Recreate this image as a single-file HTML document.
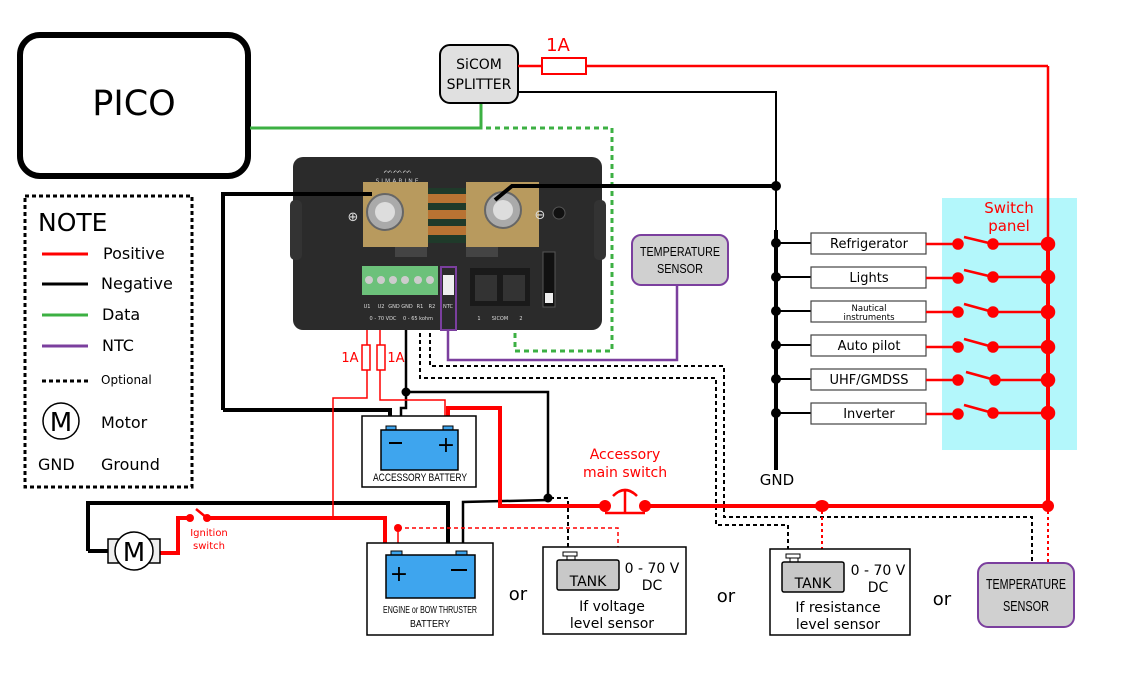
<!DOCTYPE html>
<html><head><meta charset="utf-8"><style>
body{margin:0;background:#fff}
svg{display:block}
text{font-family:"DejaVu Sans","Liberation Sans",sans-serif}
.c{font-family:"Liberation Sans",sans-serif}
</style></head><body>
<svg width="1127" height="690" viewBox="0 0 1127 690" xmlns="http://www.w3.org/2000/svg">
<rect x="942" y="198" width="135" height="252" fill="#b3f7fb"/>
<rect x="20" y="35" width="228" height="141" rx="20" fill="#fff" stroke="#000" stroke-width="6"/>
<text x="134" y="115" font-size="35" text-anchor="middle">PICO</text>
<polyline points="250,128 481,128 481,103" fill="none" stroke="#3cb043" stroke-width="3"/>
<polyline points="486,128 612,128 612,351 515,351 515,330" fill="none" stroke="#3cb043" stroke-width="3" stroke-dasharray="5,4"/>
<rect x="440" y="45" width="78" height="58" rx="10" fill="#e0e0e0" stroke="#000" stroke-width="2"/>
<text x="479" y="69" font-size="14" text-anchor="middle">SiCOM</text>
<text x="479" y="89" font-size="14" text-anchor="middle">SPLITTER</text>
<line x1="518" y1="66" x2="1048" y2="66" stroke="#f00" stroke-width="2.5"/>
<rect x="542" y="58" width="44" height="16" fill="#fff" stroke="#f00" stroke-width="2"/>
<text x="558" y="51" font-size="18" fill="#f00" text-anchor="middle">1A</text>
<polyline points="518,92 776,92 776,420" fill="none" stroke="#000" stroke-width="2"/>
<line x1="776" y1="230" x2="776" y2="470" stroke="#000" stroke-width="4"/>
<text x="777" y="485" font-size="15" text-anchor="middle">GND</text>
<line x1="1048" y1="66" x2="1048" y2="240" stroke="#f00" stroke-width="2.5"/>
<line x1="1048" y1="240" x2="1048" y2="506" stroke="#f00" stroke-width="4"/>
<text x="1009" y="213" font-size="15" fill="#f00" text-anchor="middle">Switch</text>
<text x="1009" y="231" font-size="15" fill="#f00" text-anchor="middle">panel</text>
<g font-size="13" text-anchor="middle">
<g stroke-width="2">
<line x1="776" y1="243" x2="811" y2="243" stroke="#000"/><line x1="776" y1="277" x2="811" y2="277" stroke="#000"/><line x1="776" y1="311" x2="811" y2="311" stroke="#000"/><line x1="776" y1="345" x2="811" y2="345" stroke="#000"/><line x1="776" y1="379" x2="811" y2="379" stroke="#000"/><line x1="776" y1="413" x2="811" y2="413" stroke="#000"/>
</g>
<g fill="#fff" stroke="#444" stroke-width="1.2">
<rect x="811" y="233" width="115" height="21"/><rect x="811" y="267" width="115" height="21"/><rect x="811" y="301" width="115" height="21"/><rect x="811" y="335" width="115" height="21"/><rect x="811" y="369" width="115" height="21"/><rect x="811" y="403" width="115" height="21"/>
</g>
<text x="869" y="248">Refrigerator</text>
<text x="869" y="282">Lights</text>
<text x="869" y="311" font-size="8.5">Nautical</text>
<text x="869" y="320" font-size="8.5">instruments</text>
<text x="869" y="350">Auto pilot</text>
<text x="869" y="384">UHF/GMDSS</text>
<text x="869" y="418">Inverter</text>
</g>
<g fill="#000">
<circle cx="776" cy="186" r="5"/><circle cx="776" cy="243" r="5"/><circle cx="776" cy="277" r="5"/><circle cx="776" cy="311" r="5"/><circle cx="776" cy="345" r="5"/><circle cx="776" cy="379" r="5"/><circle cx="776" cy="413" r="5"/>
</g>
<g stroke="#f00" stroke-width="2.5" fill="#f00">
<line x1="926" y1="244" x2="958" y2="244"/><line x1="993" y1="244" x2="1048" y2="244"/><line x1="964" y1="237" x2="993" y2="244"/>
<circle cx="958" cy="244" r="4.5"/><circle cx="993" cy="244" r="4.5"/><circle cx="1048" cy="244" r="6"/>
<line x1="926" y1="278" x2="958" y2="278"/><line x1="993" y1="277" x2="1048" y2="277"/><line x1="964" y1="270" x2="993" y2="277"/>
<circle cx="958" cy="278" r="4.5"/><circle cx="993" cy="277" r="4.5"/><circle cx="1048" cy="277" r="6"/>
<line x1="926" y1="312" x2="958" y2="312"/><line x1="993" y1="312" x2="1048" y2="312"/><line x1="964" y1="304" x2="993" y2="312"/>
<circle cx="958" cy="312" r="4.5"/><circle cx="993" cy="312" r="4.5"/><circle cx="1048" cy="312" r="6"/>
<line x1="926" y1="347" x2="958" y2="347"/><line x1="993" y1="347" x2="1048" y2="347"/><line x1="964" y1="339" x2="993" y2="347"/>
<circle cx="958" cy="347" r="4.5"/><circle cx="993" cy="347" r="4.5"/><circle cx="1048" cy="347" r="6"/>
<line x1="926" y1="380" x2="958" y2="380"/><line x1="995" y1="380" x2="1048" y2="380"/><line x1="966" y1="372" x2="995" y2="380"/>
<circle cx="958" cy="380" r="4.5"/><circle cx="995" cy="380" r="4.5"/><circle cx="1048" cy="380" r="6"/>
<line x1="926" y1="414" x2="958" y2="414"/><line x1="993" y1="413" x2="1048" y2="413"/><line x1="964" y1="405" x2="993" y2="413"/>
<circle cx="958" cy="414" r="4.5"/><circle cx="993" cy="413" r="4.5"/><circle cx="1048" cy="413" r="6"/>
</g>
<polyline points="677,285 677,360 448,360 448,330" fill="none" stroke="#7b3f9e" stroke-width="2.5"/>
<rect x="632" y="235" width="96" height="50" rx="9" fill="#d0d0d0" stroke="#7b3f9e" stroke-width="2"/>
<text class="c" x="680" y="256" font-size="13" text-anchor="middle" textLength="80" lengthAdjust="spacingAndGlyphs">TEMPERATURE</text>
<text class="c" x="680" y="273" font-size="13" text-anchor="middle" textLength="46" lengthAdjust="spacingAndGlyphs">SENSOR</text>
<rect x="293" y="157" width="309" height="173" rx="10" fill="#2b2b2b"/>
<rect x="290" y="200" width="12" height="60" rx="5" fill="#333"/>
<rect x="594" y="200" width="12" height="60" rx="5" fill="#333"/>
<text x="398" y="183" font-size="6" fill="#ccc" text-anchor="middle" letter-spacing="2">SIMARINE</text>
<text x="398" y="173" font-size="8" fill="#ddd" text-anchor="middle">ᨓᨓᨓ</text>
<rect x="405" y="188" width="90" height="55" fill="#1f3a2a"/>
<rect x="415" y="194" width="70" height="9" rx="4" fill="#b87333"/>
<rect x="415" y="210" width="70" height="9" rx="4" fill="#b87333"/>
<rect x="415" y="226" width="70" height="9" rx="4" fill="#b87333"/>
<rect x="363" y="182" width="65" height="65" fill="#b89a5e"/>
<rect x="466" y="182" width="73" height="65" fill="#b89a5e"/>
<rect x="395" y="247" width="32" height="10" fill="#444"/><rect x="466" y="247" width="32" height="10" fill="#444"/>
<circle cx="385" cy="212" r="18" fill="#aaa" stroke="#666" stroke-width="2"/><circle cx="385" cy="212" r="10" fill="#ddd"/>
<circle cx="503" cy="210" r="18" fill="#aaa" stroke="#666" stroke-width="2"/><circle cx="503" cy="210" r="10" fill="#ddd"/>
<text x="353" y="221" font-size="13" fill="#ddd" text-anchor="middle">⊕</text>
<text x="540" y="219" font-size="13" fill="#ddd" text-anchor="middle">⊖</text>
<circle cx="559" cy="213" r="6" fill="#111" stroke="#555"/>
<rect x="362" y="266" width="76" height="29" fill="#6cc17a"/>
<g fill="#ccc"><circle cx="369" cy="280" r="4"/><circle cx="381" cy="280" r="4"/><circle cx="393" cy="280" r="4"/><circle cx="405" cy="280" r="4"/><circle cx="418" cy="280" r="4"/><circle cx="430" cy="280" r="4"/></g>
<rect x="441" y="267" width="15" height="63" fill="none" stroke="#7b3f9e" stroke-width="2"/>
<rect x="443" y="275" width="11" height="20" fill="#eee"/>
<rect x="470" y="268" width="60" height="38" fill="#1a1a1a"/>
<rect x="475" y="275" width="22" height="26" fill="#333"/><rect x="503" y="275" width="22" height="26" fill="#333"/>
<rect x="543" y="252" width="12" height="55" fill="#111" stroke="#555"/>
<rect x="545" y="293" width="8" height="10" fill="#eee"/>
<g font-size="5" fill="#ddd" text-anchor="middle"><text x="367" y="308">U1</text><text x="381" y="308">U2</text><text x="394" y="308">GND</text><text x="407" y="308">GND</text><text x="420" y="308">R1</text><text x="432" y="308">R2</text><text x="448" y="308">NTC</text>
<text x="383" y="320">0 - 70 VDC</text><text x="418" y="320">0 - 65 kohm</text><text x="479" y="320">1</text><text x="500" y="320">SICOM</text><text x="521" y="320">2</text></g>
<polyline points="223,410 223,194 372,194" fill="none" stroke="#000" stroke-width="4"/>
<polyline points="223,410 390,410 390,420" fill="none" stroke="#000" stroke-width="4"/>
<polyline points="495,200 512,186 776,186" fill="none" stroke="#000" stroke-width="4"/>
<polyline points="406,330 406,408 401,408 401,420" fill="none" stroke="#000" stroke-width="2.5"/>
<polyline points="406,392 548,392 548,498" fill="none" stroke="#000" stroke-width="2.5"/>
<circle cx="406" cy="392" r="4.5"/><circle cx="548" cy="498" r="4.5"/>
<polyline points="548,500 463,502 463,552" fill="none" stroke="#000" stroke-width="2.5"/>
<polyline points="88,551 88,503 448,503 448,545 455,552" fill="none" stroke="#000" stroke-width="4"/>
<line x1="88" y1="551" x2="108" y2="551" stroke="#000" stroke-width="4"/>
<g fill="none" stroke="#000" stroke-width="2" stroke-dasharray="4,3">
<polyline points="430,333 430,366 724,366 724,517 1032,517 1032,562"/>
<polyline points="420,333 420,378 716,378 716,525 788,525 788,552"/>
<polyline points="550,498 568,498 568,548"/>
</g>
<g fill="none" stroke="#f00" stroke-width="1.5">
<polyline points="367,330 367,398 333,398 333,518 385,518"/>
<polyline points="380,330 380,400 445,400 445,420"/>
<rect x="362" y="345" width="8" height="25" fill="#fff"/>
<rect x="377" y="345" width="8" height="25" fill="#fff"/>
<polyline points="398,528 398,553"/>
<polyline points="398,528 618,528 618,548" stroke-dasharray="4,3"/>
<line x1="822" y1="505" x2="822" y2="555" stroke-dasharray="3,3" stroke-width="2"/>
<line x1="1048" y1="505" x2="1048" y2="562" stroke-dasharray="3,3" stroke-width="2"/>
</g>
<circle cx="398" cy="528" r="4" fill="#f00"/>
<text x="350" y="362" font-size="13" fill="#f00" text-anchor="middle">1A</text>
<text x="396" y="362" font-size="13" fill="#f00" text-anchor="middle">1A</text>
<polyline points="448,420 448,408 500,408 500,506 605,506" fill="none" stroke="#f00" stroke-width="4"/>
<line x1="645" y1="506" x2="1048" y2="506" stroke="#f00" stroke-width="4"/>
<circle cx="605" cy="506" r="6" fill="#f00"/><circle cx="645" cy="506" r="6" fill="#f00"/>
<line x1="605" y1="513" x2="645" y2="513" stroke="#f00" stroke-width="2.5"/>
<line x1="625" y1="491" x2="625" y2="513" stroke="#f00" stroke-width="2.5"/>
<path d="M613,496 Q625,484 637,496" fill="none" stroke="#f00" stroke-width="2.5"/>
<text x="625" y="459" font-size="14" fill="#f00" text-anchor="middle">Accessory</text>
<text x="625" y="477" font-size="14" fill="#f00" text-anchor="middle">main switch</text>
<ellipse cx="822" cy="506" rx="7" ry="6" fill="#f00"/><circle cx="1048" cy="506" r="6" fill="#f00"/>
<polyline points="160,553 178,553 178,518 188,518" fill="none" stroke="#f00" stroke-width="4"/>
<polyline points="205,518 385,518 385,545 390,552" fill="none" stroke="#f00" stroke-width="4"/>
<circle cx="190" cy="518" r="4" fill="#f00"/><circle cx="207" cy="518" r="4" fill="#f00"/>
<line x1="196" y1="509" x2="207" y2="518" stroke="#f00" stroke-width="2.5"/>
<text x="209" y="536" font-size="10" fill="#f00" text-anchor="middle">Ignition</text>
<text x="209" y="549" font-size="10" fill="#f00" text-anchor="middle">switch</text>
<rect x="108" y="539" width="52" height="24" fill="#eee" stroke="#000" stroke-width="1.5"/>
<circle cx="134" cy="551" r="19" fill="#fff" stroke="#000" stroke-width="1.5"/>
<text x="134" y="561" font-size="26" text-anchor="middle">M</text>
<rect x="362" y="416" width="114" height="71" fill="#fff" stroke="#000" stroke-width="1.5"/>
<rect x="386" y="426" width="10" height="5" fill="#3ea5ee" stroke="#000"/><rect x="443" y="426" width="10" height="5" fill="#3ea5ee" stroke="#000"/>
<rect x="381" y="430" width="77" height="40" fill="#3ea5ee" stroke="#000" stroke-width="1.5"/>
<line x1="389" y1="443" x2="402" y2="443" stroke="#000" stroke-width="2"/><text x="446" y="452" font-size="22" text-anchor="middle">+</text>
<text class="c" x="420" y="481" font-size="11" text-anchor="middle" textLength="94" lengthAdjust="spacingAndGlyphs">ACCESSORY BATTERY</text>
<rect x="367" y="543" width="126" height="92" fill="#fff" stroke="#000" stroke-width="1.5"/>
<rect x="391" y="551" width="11" height="5" fill="#3ea5ee" stroke="#000"/><rect x="456" y="551" width="11" height="5" fill="#3ea5ee" stroke="#000"/>
<rect x="386" y="555" width="89" height="43" fill="#3ea5ee" stroke="#000" stroke-width="1.5"/>
<text x="399" y="581" font-size="22" text-anchor="middle">+</text><line x1="451" y1="570" x2="467" y2="570" stroke="#000" stroke-width="2"/>
<text class="c" x="430" y="613" font-size="10" text-anchor="middle" textLength="94" lengthAdjust="spacingAndGlyphs">ENGINE or BOW THRUSTER</text>
<text class="c" x="430" y="627" font-size="10" text-anchor="middle" textLength="40" lengthAdjust="spacingAndGlyphs">BATTERY</text>
<rect x="543" y="547" width="143" height="87" fill="#fff" stroke="#000" stroke-width="1.5"/>
<rect x="563" y="552" width="14" height="4" fill="#fff" stroke="#000"/><rect x="567" y="556" width="8" height="4" fill="#fff" stroke="#000"/>
<rect x="557" y="560" width="62" height="30" rx="2" fill="#c8c8c8" stroke="#000" stroke-width="1.5"/>
<text x="588" y="586" font-size="14" text-anchor="middle">TANK</text>
<text x="652" y="573" font-size="14" text-anchor="middle">0 - 70 V</text><text x="652" y="590" font-size="14" text-anchor="middle">DC</text>
<text x="612" y="611" font-size="14" text-anchor="middle">If voltage</text><text x="612" y="628" font-size="14" text-anchor="middle">level sensor</text>
<rect x="770" y="549" width="140" height="86" fill="#fff" stroke="#000" stroke-width="1.5"/>
<rect x="786" y="554" width="14" height="4" fill="#fff" stroke="#000"/><rect x="790" y="558" width="8" height="4" fill="#fff" stroke="#000"/>
<rect x="782" y="562" width="62" height="30" rx="2" fill="#c8c8c8" stroke="#000" stroke-width="1.5"/>
<text x="813" y="588" font-size="14" text-anchor="middle">TANK</text>
<text x="878" y="575" font-size="14" text-anchor="middle">0 - 70 V</text><text x="878" y="592" font-size="14" text-anchor="middle">DC</text>
<text x="838" y="612" font-size="14" text-anchor="middle">If resistance</text><text x="838" y="629" font-size="14" text-anchor="middle">level sensor</text>
<rect x="978" y="563" width="96" height="64" rx="10" fill="#d0d0d0" stroke="#7b3f9e" stroke-width="2"/>
<text class="c" x="1026" y="589" font-size="15" text-anchor="middle" textLength="80" lengthAdjust="spacingAndGlyphs">TEMPERATURE</text>
<text class="c" x="1026" y="611" font-size="15" text-anchor="middle" textLength="46" lengthAdjust="spacingAndGlyphs">SENSOR</text>
<text x="518" y="600" font-size="18" text-anchor="middle">or</text>
<text x="726" y="602" font-size="18" text-anchor="middle">or</text>
<text x="942" y="605" font-size="18" text-anchor="middle">or</text>
<rect x="25" y="196" width="167" height="291" fill="none" stroke="#000" stroke-width="3" stroke-dasharray="4,3"/>
<text x="38" y="231" font-size="25">NOTE</text>
<line x1="42" y1="254" x2="88" y2="254" stroke="#f00" stroke-width="3"/>
<line x1="42" y1="284" x2="88" y2="284" stroke="#000" stroke-width="3"/>
<line x1="42" y1="315" x2="88" y2="315" stroke="#3cb043" stroke-width="3"/>
<line x1="42" y1="346" x2="88" y2="346" stroke="#7b3f9e" stroke-width="3"/>
<line x1="42" y1="381" x2="88" y2="381" stroke="#000" stroke-width="3" stroke-dasharray="4,3"/>
<g font-size="16"><text x="103" y="259">Positive</text><text x="101" y="289">Negative</text><text x="102" y="320">Data</text><text x="102" y="351">NTC</text><text x="101" y="428">Motor</text><text x="101" y="470">Ground</text><text x="38" y="470">GND</text></g>
<text x="101" y="384" font-size="12">Optional</text>
<circle cx="61" cy="421" r="18" fill="none" stroke="#000" stroke-width="1.5"/>
<text x="61" y="431" font-size="26" text-anchor="middle">M</text>
</svg>
</body></html>
